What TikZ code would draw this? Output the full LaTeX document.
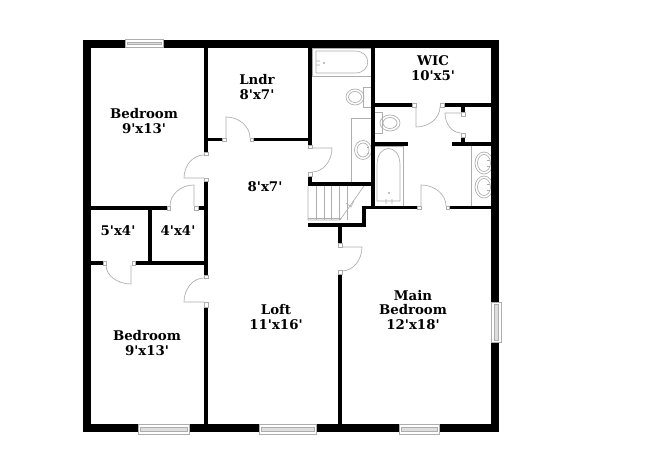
\documentclass[tikz,border=0pt]{standalone}
\usepackage{fontspec}
\newfontfamily\lblfont{DejaVu Serif}
\usetikzlibrary{calc}
\definecolor{fix}{gray}{0.68}
\newcommand\Wl[4]{\fill[black] (#1,#2) rectangle (#3,#4);}
\newcommand\Jb[4]{\draw[fixline,fill=white] (#1,#2) rectangle (#3,#4);}
\newcommand\Dr[3]{\draw[fixline] (#1) -- (#2) .. controls ($(#2)!0.55!($(#2)+(#3)-(#1)$)$) and ($(#3)!0.55!($(#2)+(#3)-(#1)$)$) .. (#3);}
\newcommand\WinH[4]{\fill[white] (#1,#2) rectangle (#3,#4);\draw[fixline,line width=0.3pt] (#1,#2) rectangle (#3,#4);
  \draw[fixline,line width=0.3pt,fill=black!13] ($(#1,#2)+(2,3.5)$) rectangle ($(#3,#4)+(-2,-3)$);}
\newcommand\WinV[4]{\fill[white] (#1,#2) rectangle (#3,#4);\draw[fixline,line width=0.3pt] (#1,#2) rectangle (#3,#4);
  \draw[fixline,line width=0.3pt,fill=black!13] ($(#1,#2)+(3.5,2)$) rectangle ($(#3,#4)+(-3,-2)$);}
\tikzset{fixline/.style={draw=fix,line width=0.5pt},
 lbl/.style={font=\lblfont\fontsize{10}{11}\selectfont\bfseries,inner sep=0pt,align=center,text=black}}
\begin{document}
\begin{tikzpicture}[x=0.75pt,y=-0.75pt]
\useasboundingbox (0,0) rectangle (650,473);
% fixtures
\draw[fixline] (312,48) rectangle (371,76);
\draw[fixline] (316,51) -- (355,51) .. controls (372,51) and (372,73) .. (355,73) -- (316,73) -- cycle;
\draw[fixline] (316,61) -- (320,61) (316,65) -- (320,65) (324,63) circle (0.6);
\draw[fixline] (363,87) rectangle (371,107);
\draw[fixline] (355,97) ellipse (9 and 8);
\draw[fixline] (355,97) ellipse (6.5 and 5.5);
\draw[fixline] (374,112) rectangle (382,133);
\draw[fixline] (390,123) ellipse (10 and 8);
\draw[fixline] (390,123) ellipse (7 and 5.5);
\draw[fixline] (351,118) rectangle (371,182);
\draw[fixline] (363,150) ellipse (8.5 and 9.5);
\draw[fixline] (363,150) ellipse (6 and 7);
\draw[fixline] (367,147) -- (369,147) (367,153) -- (369,153);
\draw[fixline] (374,146) -- (403,146) -- (403,206);
\draw[fixline] (377,201) -- (377,165) .. controls (377,143) and (400,143) .. (400,165) -- (400,201) -- cycle;
\draw[fixline] (386,199) -- (386,204) (392,199) -- (392,204) (389,193) circle (0.6);
\draw[fixline] (471,146) -- (471,206);
\foreach \c in {163,187}{
 \draw[fixline] (484,\c) ellipse (9 and 11);
 \draw[fixline] (484,\c) ellipse (6.5 and 8.5);
 \draw[fixline] (487,\c-3) -- (490,\c-3) (487,\c+3) -- (490,\c+3);
}
% stairs
\draw[fixline] (308,186) -- (308,220) -- (340,220) -- (364,186);
\draw[fixline] (308,218) -- (341,218);
\foreach \x in {316,324,331,339,347}{\draw[fixline] (\x,186) -- (\x,220);}
\draw[fixline] (346,203) -- (351,207) -- (354,201);
% walls
\Wl{83}{40}{499}{48}
\Wl{83}{424}{499}{432}
\Wl{83}{40}{91}{432}
\Wl{491}{40}{499}{432}
\Wl{204}{48}{208}{152}
\Wl{204}{181}{208}{275}
\Wl{204}{307}{208}{424}
\Wl{208}{138}{222}{141.5}
\Wl{253}{138}{308}{141.5}
\Wl{308}{48}{312}{145}
\Wl{308}{176}{312}{186}
\Wl{308}{182}{374.5}{186}
\Wl{371}{48}{374.5}{209.5}
\Wl{362}{206}{417}{209.5}
\Wl{449}{206}{491}{209.5}
\Wl{362}{206}{366}{226.7}
\Wl{308}{222.7}{366}{226.7}
\Wl{338.3}{226}{342.3}{243}
\Wl{338.3}{274}{342.3}{424}
\Wl{374}{103}{412}{107}
\Wl{444}{103}{491}{107}
\Wl{461}{107}{465}{112}
\Wl{461}{137}{465}{142}
\Wl{374}{142}{408}{146}
\Wl{452}{142}{491}{146}
\Wl{91}{206}{167}{210}
\Wl{198}{206}{204}{210}
\Wl{148}{210}{152}{262}
\Wl{135}{261}{204}{265}
\Wl{91}{261}{103}{265}
% jambs
\Jb{222.5}{138}{226}{141.5}
\Jb{250}{138}{253}{141.5}
\Jb{308.5}{145}{312}{148.5}
\Jb{308.5}{172.5}{312}{176}
\Jb{412}{103}{416}{107}
\Jb{440}{103}{444}{107}
\Jb{461}{112}{465}{116}
\Jb{461}{133}{465}{137}
\Jb{417}{206}{421}{209.5}
\Jb{446}{206}{449}{209.5}
\Jb{338.5}{243}{342}{247}
\Jb{338.5}{270}{342}{274}
\Jb{204.5}{152}{208}{155}
\Jb{204.5}{178}{208}{181}
\Jb{167}{206}{170}{210}
\Jb{194}{206}{198}{210}
\Jb{103}{261}{106}{265}
\Jb{132}{261}{135}{265}
\Jb{204.5}{275}{208}{278}
\Jb{204.5}{302}{208}{307}
% doors
\Dr{226,138}{226,117}{250,138}
\Dr{312,148}{332,148}{312,172}
\Dr{416,107}{416,127}{440,107}
\Dr{461,113}{445,113}{461,133}
\Dr{421,206}{421,185}{446,206}
\Dr{342,247}{362,247}{342,271}
\Dr{204,178}{184,178}{204,155}
\Dr{194,206}{194,185}{170,206}
\Dr{131,265}{131,284}{106,265}
\Dr{204,302}{184,302}{204,278}
% windows
\WinH{125}{39}{163}{47}
\WinH{138}{424}{189}{434}
\WinH{259}{424}{316}{434}
\WinH{399}{424}{439}{434}
\WinV{491}{302}{501}{342}
% labels
\node[lbl] (bed1) at (144,121) {Bedroom\\9'x13'};
\node[lbl] (lndr) at (257,87) {Lndr\\8'x7'};
\node[lbl] (wic) at (433,68) {WIC\\10'x5'};
\node[lbl] (hall) at (265,187) {8'x7'};
\node[lbl] (cl1) at (118,231) {5'x4'};
\node[lbl] (cl2) at (178,231) {4'x4'};
\node[lbl] (bed2) at (147,343) {Bedroom\\9'x13'};
\node[lbl] (loft) at (276,317) {Loft\\11'x16'};
\node[lbl] (main) at (413,310) {Main\\Bedroom\\12'x18'};
\end{tikzpicture}
\end{document}
